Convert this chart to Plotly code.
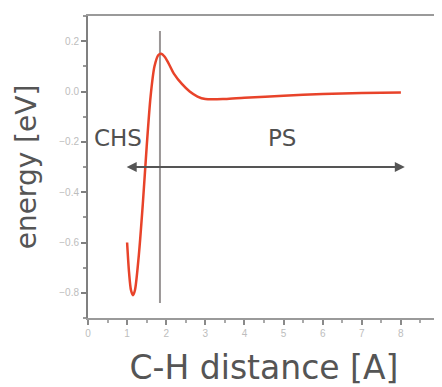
import plotly.graph_objects as go

# curve data (C-H distance [A], energy [eV])
dist = [1.0, 1.05, 1.1, 1.15, 1.2, 1.3, 1.4, 1.5, 1.6, 1.7, 1.8, 1.87, 1.95, 2.05, 2.2, 2.4, 2.6, 2.8, 3.0, 3.5, 4.0, 5.0, 6.0, 7.0, 8.0]
energy = [-0.60, -0.72, -0.79, -0.81, -0.79, -0.65, -0.45, -0.22, -0.02, 0.10, 0.145, 0.15, 0.14, 0.115, 0.07, 0.03, 0.0, -0.02, -0.03, -0.03, -0.025, -0.017, -0.01, -0.006, -0.004]

# transition-state marker
ts_x = [1.84, 1.84]
ts_y = [-0.84, 0.24]

# region arrow and labels
arrow_x = [0.95, 8.1]
arrow_y = -0.3
labels = ["CHS", "PS"]
label_x = [0.77, 4.95]
label_y = [-0.185, -0.185]

fig = go.Figure()
fig.add_trace(go.Scatter(x=ts_x, y=ts_y, mode="lines",
                         line=dict(color="#9a9696", width=2), hoverinfo="skip"))
fig.add_trace(go.Scatter(x=dist, y=energy, mode="lines",
                         line=dict(color="#e8432a", width=2.5, shape="spline", smoothing=0.8)))

fig.add_annotation(x=arrow_x[1], y=arrow_y, ax=arrow_x[0], ay=arrow_y,
                   xref="x", yref="y", axref="x", ayref="y", text="",
                   showarrow=True, arrowhead=2, startarrowhead=2, arrowside="end+start",
                   arrowsize=1, startarrowsize=1, arrowwidth=2, arrowcolor="#555555")
for t, lx, ly in zip(labels, label_x, label_y):
    fig.add_annotation(x=lx, y=ly, xref="x", yref="y", text=t, showarrow=False,
                       font=dict(family="DejaVu Sans", size=23, color="#505050"))

axis_common = dict(showgrid=False, zeroline=False, showline=True, linewidth=2,
                   ticks="outside", ticklen=5, tickwidth=1.5, automargin=False,
                   tickfont=dict(family="Liberation Sans", size=10, color="#bdbdbd"))

fig.update_xaxes(range=[0, 9], dtick=1, tick0=0, linecolor="#9a9a9a", tickcolor="#8a8a8a",
                 mirror=True, minor=dict(dtick=0.5, ticks="outside", ticklen=3, tickcolor="#aaaaaa"),
                 title=dict(text="C-H distance [A]", standoff=18,
                            font=dict(family="DejaVu Sans", size=33, color="#555555")),
                 **axis_common)
fig.update_yaxes(range=[-0.9, 0.3], dtick=0.2, tick0=0, tickformat=".1f", linecolor="#808080",
                 tickcolor="#808080",
                 minor=dict(dtick=0.1, ticks="outside", ticklen=3, tickcolor="#999999"),
                 title=dict(text="energy [eV]", standoff=14,
                            font=dict(family="DejaVu Sans", size=28, color="#555555")),
                 **axis_common)

fig.update_layout(width=434, height=379, margin=dict(l=80, r=2, t=8, b=69),
                  plot_bgcolor="white", paper_bgcolor="white", showlegend=False)

fig.write_html("out.html")
